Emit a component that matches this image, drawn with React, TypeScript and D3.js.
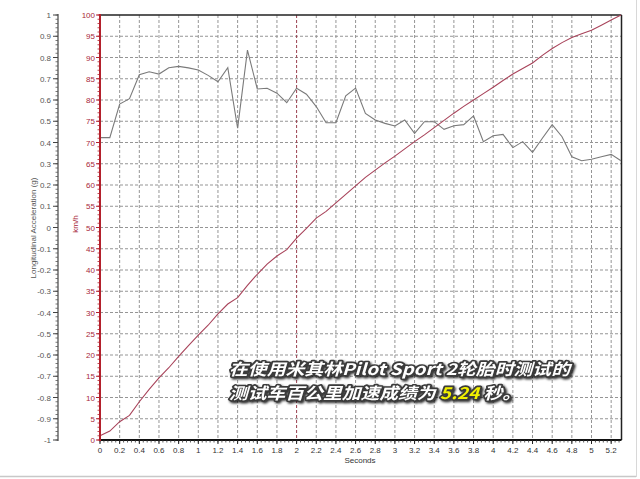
import React from "react";
import * as d3 from "d3";

const timeS = [0, 0.1, 0.2, 0.3, 0.4, 0.5, 0.6, 0.7, 0.8, 0.9, 1.0, 1.1, 1.2, 1.3, 1.4, 1.5, 1.6, 1.7, 1.8, 1.9, 2.0, 2.1, 2.2, 2.3, 2.4, 2.5, 2.6, 2.7, 2.8, 2.9, 3.0, 3.1, 3.2, 3.3, 3.4, 3.5, 3.6, 3.7, 3.8, 3.9, 4.0, 4.1, 4.2, 4.3, 4.4, 4.5, 4.6, 4.7, 4.8, 4.9, 5.0, 5.1, 5.2, 5.3];
const accelG = [0.423, 0.423, 0.581, 0.606, 0.719, 0.733, 0.722, 0.752, 0.758, 0.751, 0.741, 0.716, 0.686, 0.752, 0.467, 0.835, 0.652, 0.655, 0.632, 0.587, 0.655, 0.627, 0.569, 0.493, 0.493, 0.62, 0.656, 0.537, 0.506, 0.49, 0.478, 0.506, 0.443, 0.498, 0.498, 0.462, 0.479, 0.484, 0.525, 0.404, 0.432, 0.438, 0.376, 0.404, 0.354, 0.42, 0.484, 0.427, 0.333, 0.314, 0.321, 0.333, 0.344, 0.314];
const speedKmh = [1.0, 2.1, 4.3, 5.8, 9.0, 11.9, 14.6, 17.0, 19.7, 22.2, 24.7, 27.0, 29.7, 32.0, 33.5, 36.4, 39.0, 41.4, 43.3, 44.8, 47.5, 49.8, 52.2, 53.8, 55.8, 57.8, 59.8, 61.8, 63.5, 65.2, 66.8, 68.5, 70.2, 71.8, 73.5, 75.2, 76.9, 78.5, 80.0, 81.5, 83.0, 84.6, 86.1, 87.4, 88.7, 90.5, 92.1, 93.5, 94.7, 95.6, 96.4, 97.6, 98.8, 100];

const gTicks = [1, 0.9, 0.8, 0.7, 0.6, 0.5, 0.4, 0.3, 0.2, 0.1, 0, -0.1, -0.2, -0.3, -0.4, -0.5, -0.6, -0.7, -0.8, -0.9, -1];
const kmhTicks = [0, 5, 10, 15, 20, 25, 30, 35, 40, 45, 50, 55, 60, 65, 70, 75, 80, 85, 90, 95, 100];
const secTicks = [0, 0.2, 0.4, 0.6, 0.8, 1, 1.2, 1.4, 1.6, 1.8, 2, 2.2, 2.4, 2.6, 2.8, 3, 3.2, 3.4, 3.6, 3.8, 4, 4.2, 4.4, 4.6, 4.8, 5, 5.2];

const captionLine1 = "在使用米其林Pilot Sport 2轮胎时测试的";
const captionLine2a = "测试车百公里加速成绩为 ";
const captionValue = "5.24";
const captionLine2b = " 秒。";

const FONT = "'Liberation Sans', Arial, sans-serif";

export default function App() {
  const x = d3.scaleLinear().domain([0, 5.3]).range([100, 621]);
  const yK = d3.scaleLinear().domain([0, 100]).range([440, 15]);
  const yG = d3.scaleLinear().domain([-1, 1]).range([440, 15]);

  const idx = d3.range(timeS.length);
  const accelLine = d3.line<number>().x((i) => x(timeS[i])).y((i) => yG(accelG[i]))(idx) || "";
  const speedLine = d3.line<number>().x((i) => x(timeS[i])).y((i) => yK(speedKmh[i]))(idx) || "";

  const xMinor = d3.range(0, 5.3001, 0.04);
  const gMinor = d3.range(-1, 1.0001, 0.02);
  const kMinor = d3.range(0, 100.001, 1);

  const fmt = (v: number) => String(+v.toFixed(1));

  return (
    <svg width={640} height={479} style={{ position: "absolute", left: 0, top: 0, background: "#fff" }}>
      <defs>
        <filter id="shadow" x="-10%" y="-30%" width="120%" height="160%">
          <feDropShadow dx="1.5" dy="1.5" stdDeviation="1.2" floodColor="#000" floodOpacity="0.85" />
        </filter>
      </defs>
      <rect x={0} y={0} width={640} height={479} fill="#fff" />
      {/* frame */}
      <line x1={0} x2={636} y1={476.5} y2={476.5} stroke="#c8c8c8" strokeWidth={1.5} />
      <line x1={636.5} x2={636.5} y1={0} y2={477} stroke="#d8d8d8" strokeWidth={1} />

      {/* grid */}
      {kmhTicks.filter((v) => v > 0 && v < 100).map((v) => (
        <line key={"hg" + v} x1={100} x2={621} y1={yK(v)} y2={yK(v)} stroke="#959595" strokeWidth={1} strokeDasharray="3,2" />
      ))}
      {secTicks.filter((v) => v > 0).map((v) => (
        <line key={"vg" + v} x1={x(v)} x2={x(v)} y1={15} y2={440} stroke={v === 2 ? "#9a4050" : "#959595"} strokeWidth={1} strokeDasharray="3,2" />
      ))}

      {/* plot border */}
      <line x1={100} x2={621.5} y1={15} y2={15} stroke="#222" strokeWidth={1.5} />
      <line x1={621.5} x2={621.5} y1={15} y2={440} stroke="#222" strokeWidth={1.5} />

      {/* data */}
      <path d={accelLine} fill="none" stroke="#7a7a7a" strokeWidth={1.1} />
      <path d={speedLine} fill="none" stroke="#a8435a" strokeWidth={1.1} />

      {/* x axis */}
      <line x1={100} x2={621.5} y1={440} y2={440} stroke="#111" strokeWidth={2} />
      {xMinor.map((v, i) => (
        <line key={"xm" + i} x1={x(v)} x2={x(v)} y1={440} y2={442.5} stroke="#333" strokeWidth={0.8} />
      ))}
      {secTicks.map((v) => (
        <g key={"xt" + v}>
          <line x1={x(v)} x2={x(v)} y1={440} y2={444} stroke="#222" strokeWidth={1} />
          <text x={x(v)} y={453} textAnchor="middle" fontFamily={FONT} fontSize={8} fill="#333">{fmt(v)}</text>
        </g>
      ))}
      <text x={360} y={463} textAnchor="middle" fontFamily={FONT} fontSize={8} fill="#333">Seconds</text>

      {/* g axis */}
      <line x1={58} x2={58} y1={14} y2={441} stroke="#444" strokeWidth={1.2} />
      {gMinor.map((v, i) => (
        <line key={"gm" + i} x1={55.5} x2={58} y1={yG(v)} y2={yG(v)} stroke="#555" strokeWidth={0.8} />
      ))}
      {gTicks.map((v) => (
        <g key={"gt" + v}>
          <line x1={53} x2={58} y1={yG(v)} y2={yG(v)} stroke="#444" strokeWidth={1} />
          <text x={51} y={yG(v) + 3} textAnchor="end" fontFamily={FONT} fontSize={8} fill="#555">{fmt(v)}</text>
        </g>
      ))}
      <text transform="translate(36,228) rotate(-90)" textAnchor="middle" fontFamily={FONT} fontSize={8} fill="#555">Longitudinal Acceleration (g)</text>

      {/* km/h axis */}
      <line x1={100} x2={100} y1={14} y2={441} stroke="#b3202c" strokeWidth={2} />
      {kMinor.map((v) => (
        <line key={"km" + v} x1={97.5} x2={100} y1={yK(v)} y2={yK(v)} stroke="#b3202c" strokeWidth={0.8} />
      ))}
      {kmhTicks.map((v) => (
        <g key={"kt" + v}>
          <line x1={96} x2={100} y1={yK(v)} y2={yK(v)} stroke="#b3202c" strokeWidth={1} />
          <text x={95} y={yK(v) + 3} textAnchor="end" fontFamily={FONT} fontSize={8} fill="#a8283a">{v}</text>
        </g>
      ))}
      <text transform="translate(78,224) rotate(-90)" textAnchor="middle" fontFamily={FONT} fontSize={8} fill="#a8283a">km/h</text>

      {/* caption */}
      <g filter="url(#shadow)" fontFamily="'Noto Sans CJK SC', sans-serif" fontWeight="bold" fontStyle="italic" fontSize={16}>
        <text x={229} y={375} textLength={341} lengthAdjust="spacingAndGlyphs" fill="#fff" stroke="#3a3a3a" strokeWidth={3.2} strokeLinejoin="round" style={{ paintOrder: "stroke" }}>
          {captionLine1}
        </text>
        <text x={229} y={399} textLength={292} lengthAdjust="spacingAndGlyphs" fill="#fff" stroke="#3a3a3a" strokeWidth={3.2} strokeLinejoin="round" style={{ paintOrder: "stroke" }}>
          <tspan>{captionLine2a}</tspan>
          <tspan fill="#f2f000">{captionValue}</tspan>
          <tspan>{captionLine2b}</tspan>
        </text>
      </g>
    </svg>
  );
}
